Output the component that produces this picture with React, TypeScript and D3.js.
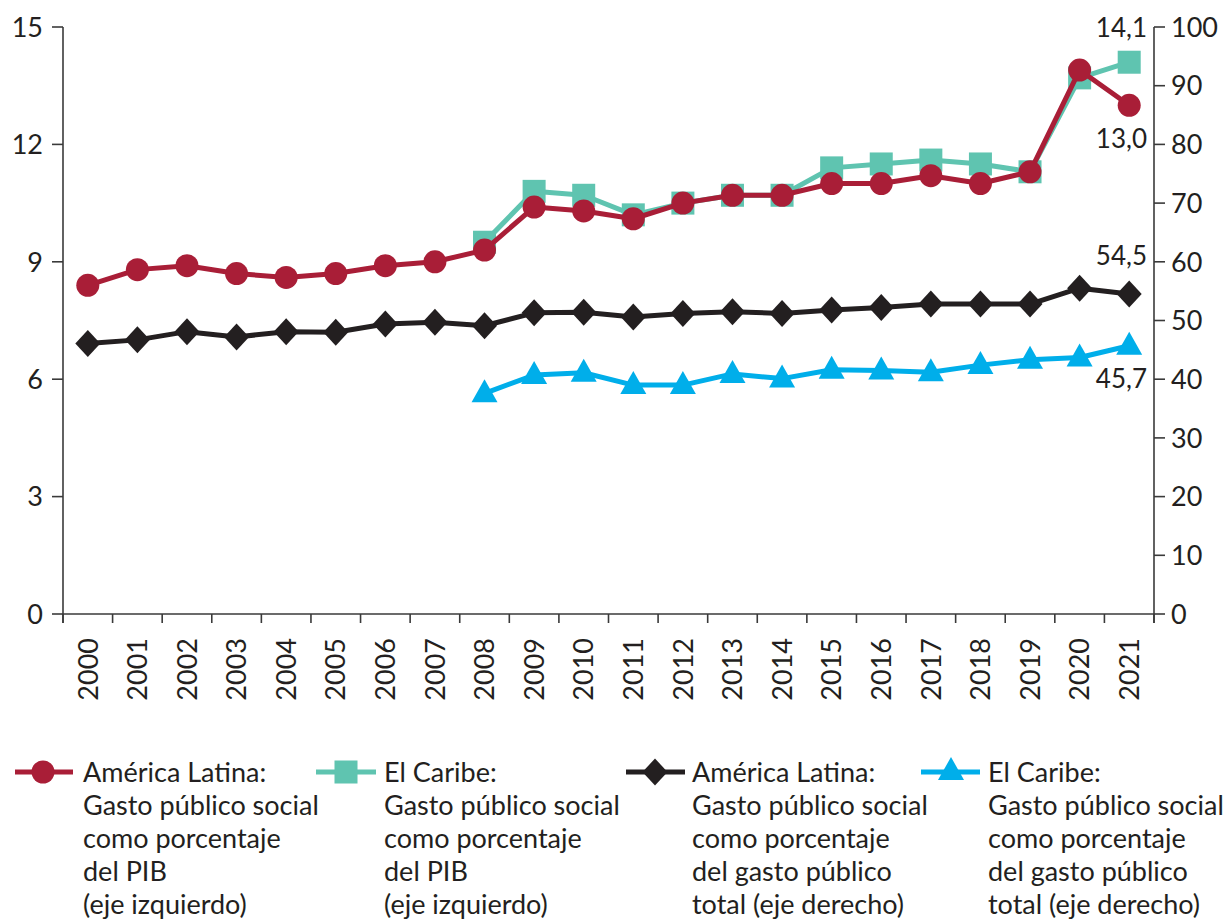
import React from 'react';
import * as d3 from 'd3';

const years = ['2000','2001','2002','2003','2004','2005','2006','2007','2008','2009','2010','2011','2012','2013','2014','2015','2016','2017','2018','2019','2020','2021'];
// América Latina: gasto público social como % del PIB (eje izquierdo)
const alPib: (number | null)[] = [8.4, 8.8, 8.9, 8.7, 8.6, 8.7, 8.9, 9.0, 9.3, 10.4, 10.3, 10.1, 10.5, 10.7, 10.7, 11.0, 11.0, 11.2, 11.0, 11.3, 13.9, 13.0];
// El Caribe: gasto público social como % del PIB (eje izquierdo)
const caPib: (number | null)[] = [null, null, null, null, null, null, null, null, 9.5, 10.8, 10.7, 10.2, 10.5, 10.7, 10.7, 11.4, 11.5, 11.6, 11.5, 11.3, 13.7, 14.1];
// América Latina: % del gasto público total (eje derecho)
const alGasto: (number | null)[] = [46.1, 46.7, 48.1, 47.2, 48.1, 48.0, 49.4, 49.7, 49.1, 51.3, 51.4, 50.6, 51.2, 51.5, 51.2, 51.8, 52.2, 52.8, 52.8, 52.8, 55.5, 54.5];
// El Caribe: % del gasto público total (eje derecho)
const caGasto: (number | null)[] = [null, null, null, null, null, null, null, null, 37.6, 40.7, 41.1, 39.0, 39.0, 40.9, 40.1, 41.6, 41.5, 41.2, 42.4, 43.3, 43.7, 45.7];

const leftTicks = [0, 3, 6, 9, 12, 15];
const rightTicks = [0, 10, 20, 30, 40, 50, 60, 70, 80, 90, 100];

const legendItems = [
  { key: 'alPib', lines: ['América Latina:', 'Gasto público social', 'como porcentaje', 'del PIB', '(eje izquierdo)'] },
  { key: 'caPib', lines: ['El Caribe:', 'Gasto público social', 'como porcentaje', 'del PIB', '(eje izquierdo)'] },
  { key: 'alGasto', lines: ['América Latina:', 'Gasto público social', 'como porcentaje', 'del gasto público', 'total (eje derecho)'] },
  { key: 'caGasto', lines: ['El Caribe:', 'Gasto público social', 'como porcentaje', 'del gasto público', 'total (eje derecho)'] },
];

const RED = '#a91e37';
const TEAL = '#5fc4b0';
const BLACK = '#231f20';
const BLUE = '#00aeea';
const AXIS = '#3a3a3a';
const FONT = 'Lato, "Noto Sans", sans-serif';

type Shape = 'circle' | 'square' | 'diamond' | 'triangle';

function Marker({ shape, x, y, color }: { shape: Shape; x: number; y: number; color: string }) {
  if (shape === 'circle') return <circle cx={x} cy={y} r={11.5} fill={color} />;
  if (shape === 'square') return <rect x={x - 11.5} y={y - 11.5} width={23} height={23} fill={color} />;
  if (shape === 'diamond')
    return <path d={`M${x},${y - 13.5}L${x + 12.5},${y}L${x},${y + 13.5}L${x - 12.5},${y}Z`} fill={color} />;
  return <path d={`M${x},${y - 14}L${x + 13},${y + 9}L${x - 13},${y + 9}Z`} fill={color} />;
}

export default function App() {
  const x0 = 63, x1 = 1154, yTop = 27, yBot = 614;
  const x = d3.scaleBand<string>().domain(years).range([x0, x1]).padding(0);
  const yL = d3.scaleLinear().domain([0, 15]).range([yBot, yTop]);
  const yR = d3.scaleLinear().domain([0, 100]).range([yBot, yTop]);
  const cx = (yr: string) => (x(yr) as number) + x.bandwidth() / 2;

  const series = [
    { key: 'caPib', data: caPib, scale: yL, color: TEAL, shape: 'square' as Shape },
    { key: 'alPib', data: alPib, scale: yL, color: RED, shape: 'circle' as Shape },
    { key: 'alGasto', data: alGasto, scale: yR, color: BLACK, shape: 'diamond' as Shape },
    { key: 'caGasto', data: caGasto, scale: yR, color: BLUE, shape: 'triangle' as Shape },
  ];

  const lineGen = (scale: d3.ScaleLinear<number, number>) =>
    d3
      .line<{ yr: string; v: number | null }>()
      .defined((d) => d.v !== null)
      .x((d) => cx(d.yr))
      .y((d) => scale(d.v as number));

  const bandEdges = years.map((yr) => x(yr) as number).concat([x1]);

  const legendX = [
    { line: [15, 73], mx: 43, tx: 83 },
    { line: [316, 376], mx: 346, tx: 384 },
    { line: [626, 685], mx: 655, tx: 692 },
    { line: [921, 980], mx: 951, tx: 988 },
  ];
  const shapeByKey: Record<string, { color: string; shape: Shape }> = {};
  series.forEach((s) => (shapeByKey[s.key] = { color: s.color, shape: s.shape }));

  return (
    <svg width={1228} height={924} style={{ position: 'absolute', left: 0, top: 0, background: '#fff' }} fontFamily={FONT}>
      <rect width={1228} height={924} fill="#fff" />
      {/* axes */}
      <line x1={x0} x2={x0} y1={yTop} y2={yBot + 9} stroke={AXIS} strokeWidth={1.6} />
      <line x1={x1} x2={x1} y1={yTop} y2={yBot + 9} stroke={AXIS} strokeWidth={1.6} />
      <line x1={x0} x2={x1} y1={yBot} y2={yBot} stroke={AXIS} strokeWidth={1.6} />
      {bandEdges.map((bx, i) => (
        <line key={'xt' + i} x1={bx} x2={bx} y1={yBot} y2={yBot + 9} stroke={AXIS} strokeWidth={1.6} />
      ))}
      {leftTicks.map((t) => (
        <g key={'lt' + t}>
          <line x1={x0 - 11} x2={x0} y1={yL(t)} y2={yL(t)} stroke={AXIS} strokeWidth={1.6} />
          <text x={x0 - 20} y={yL(t)} dy="0.36em" textAnchor="end" fontSize={27} fill={BLACK}>
            {t}
          </text>
        </g>
      ))}
      {rightTicks.map((t) => (
        <g key={'rt' + t}>
          <line x1={x1} x2={x1 + 11} y1={yR(t)} y2={yR(t)} stroke={AXIS} strokeWidth={1.6} />
          <text x={x1 + 17} y={yR(t)} dy="0.36em" textAnchor="start" fontSize={27} fill={BLACK}>
            {t}
          </text>
        </g>
      ))}
      {years.map((yr) => (
        <text
          key={'yl' + yr}
          transform={`translate(${cx(yr)},${yBot + 24}) rotate(-90)`}
          dy="0.36em"
          textAnchor="end"
          fontSize={27}
          fill={BLACK}
        >
          {yr}
        </text>
      ))}
      {/* series */}
      {series.map((s) => {
        const pts = years.map((yr, i) => ({ yr, v: s.data[i] }));
        return (
          <g key={s.key}>
            <path d={lineGen(s.scale)(pts) || ''} fill="none" stroke={s.color} strokeWidth={5} strokeLinejoin="round" />
            {pts
              .filter((p) => p.v !== null)
              .map((p) => (
                <Marker key={p.yr} shape={s.shape} x={cx(p.yr)} y={s.scale(p.v as number)} color={s.color} />
              ))}
          </g>
        );
      })}
      {/* data labels */}
      <text x={1147} y={37} textAnchor="end" fontSize={26} fill={BLACK}>{d3.format('.1f')(caPib[21] as number).replace('.', ',')}</text>
      <text x={1147} y={148} textAnchor="end" fontSize={26} fill={BLACK}>{d3.format('.1f')(alPib[21] as number).replace('.', ',')}</text>
      <text x={1147} y={265} textAnchor="end" fontSize={26} fill={BLACK}>{d3.format('.1f')(alGasto[21] as number).replace('.', ',')}</text>
      <text x={1147} y={388} textAnchor="end" fontSize={26} fill={BLACK}>{d3.format('.1f')(caGasto[21] as number).replace('.', ',')}</text>
      {/* legend */}
      {legendItems.map((it, i) => {
        const lx = legendX[i];
        const st = shapeByKey[it.key];
        return (
          <g key={'lg' + it.key}>
            <line x1={lx.line[0]} x2={lx.line[1]} y1={772} y2={772} stroke={st.color} strokeWidth={5} />
            <Marker shape={st.shape} x={lx.mx} y={st.shape === 'triangle' ? 771 : 772} color={st.color} />
            {it.lines.map((ln, j) => (
              <text key={j} x={lx.tx} y={782 + j * 33} fontSize={27} fill={BLACK}>
                {ln}
              </text>
            ))}
          </g>
        );
      })}
    </svg>
  );
}
